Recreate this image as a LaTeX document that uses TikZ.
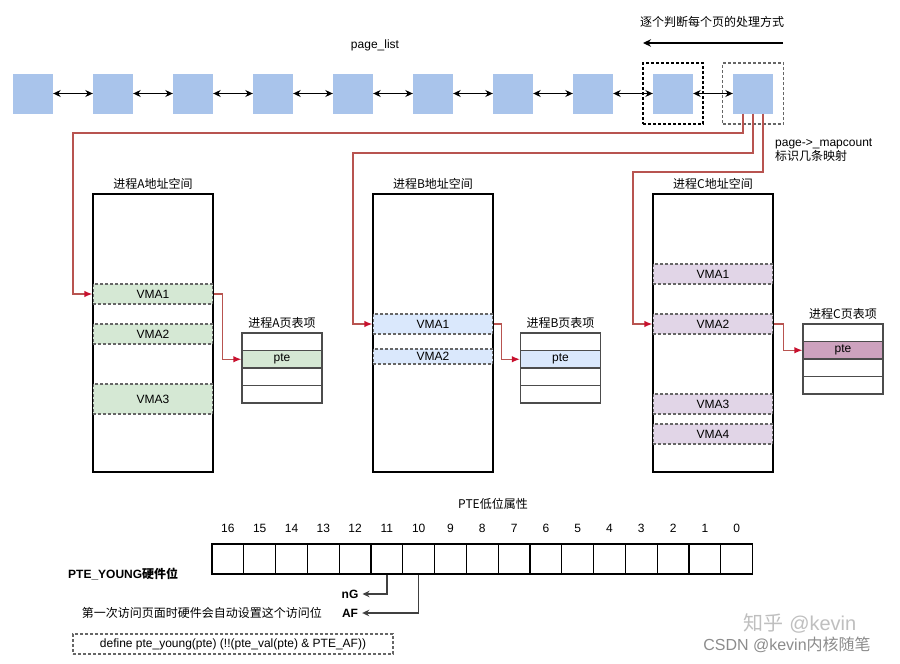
\documentclass[tikz,border=0pt]{standalone}
\usepackage{fontspec}
\setmainfont{Liberation Sans}
\newfontfamily\cjk{Noto Sans CJK SC}
\usetikzlibrary{arrows.meta}
\definecolor{pageblue}{HTML}{A9C4EB}
\definecolor{vgreen}{HTML}{D5E8D4}
\definecolor{vblue}{HTML}{DAE8FC}
\definecolor{vpurple}{HTML}{E1D5E7}
\definecolor{ptepurple}{HTML}{CDA2BE}
\definecolor{linered}{HTML}{B85450}
\definecolor{tipred}{HTML}{C8102E}
\definecolor{dgray}{HTML}{666666}
\tikzset{
  txt/.style={font=\fontsize{12}{14}\selectfont, inner sep=1pt},
  pagebox/.style={fill=pageblue, minimum width=40pt, minimum height=40pt, inner sep=0pt},
  linkarrow/.style={line width=1.1pt, {Stealth[length=7.5pt,width=7pt]}-{Stealth[length=7.5pt,width=7pt]}},
  addrspace/.style={draw, line width=1.2pt, fill=white, minimum width=120pt, minimum height=278pt, inner sep=0pt},
  vma/.style={draw=dgray, dash pattern=on 3pt off 2pt, line width=1.3pt, minimum width=120pt, inner sep=0pt, txt},
  ptrow/.style={draw=black!70, line width=1.2pt, minimum width=80pt, minimum height=17.5pt, inner sep=0pt, txt},
  redarrow/.style={draw=linered, line width=1.3pt, -{Latex[color=tipred,length=8pt,width=6.5pt]}},
  grayarrow/.style={draw=black!75, line width=1.3pt, -{Stealth[length=7pt,width=6.5pt]}},
  bitbox/.style={draw, line width=1.2pt, minimum width=31.8pt, minimum height=30pt, inner sep=0pt},
  dashbox/.style={dash pattern=on 3pt off 2pt, line width=1.2pt, inner sep=0pt},
}
\begin{document}
\begin{tikzpicture}[x=1pt,y=-1pt]
\useasboundingbox (0,0) rectangle (900,664);
\fill[white] (0,0) rectangle (900,664);

% top label and arrow
\node[txt] (order) at (712,22) {\cjk 逐个判断每个页的处理方式};
\coordinate (ta) at (783,43);
\coordinate (tb) at (643,43);
\draw[line width=1.1pt, -{Stealth[length=8pt,width=7.5pt]}] (ta) -- (tb);
\node[txt] (plist) at (375,45) {page\_list};

% page list
\foreach \i in {0,...,9} \node[pagebox] (p\i) at ({33+80*\i},93.5) {};
\foreach \i [evaluate=\i as \j using int(\i+1)] in {0,...,8} \draw[linkarrow] (p\i) -- (p\j);
\node[dashbox, draw, minimum width=60pt, minimum height=61pt] (d8) at (p8) {};
\node[dashbox, draw=dgray, minimum width=61pt, minimum height=61pt] (d9) at (p9) {};

\node[txt, anchor=west, align=left] (mapc) at (774,150) {page->\_mapcount\\{\cjk 标识几条映射}};

% process A
\node[txt] (tA) at (153,184) {\cjk 进程A地址空间};
\node[addrspace] (asA) at (153,333) {};
\node[vma, fill=vgreen, minimum height=20pt] (aV1) at (153,294) {VMA1};
\node[vma, fill=vgreen, minimum height=20pt] (aV2) at (153,334) {VMA2};
\node[vma, fill=vgreen, minimum height=30pt] (aV3) at (153,399) {VMA3};
\draw[line width=1.2pt] (asA.north west) rectangle (asA.south east);
\node[txt] (ptAt) at (282,323) {\cjk 进程A页表项};
\node[ptrow] (ptA1) at (282,341.75) {};
\node[ptrow, fill=vgreen] (ptA2) at (282,359.25) {pte};
\node[ptrow] (ptA3) at (282,376.75) {};
\node[ptrow] (ptA4) at (282,394.25) {};
\draw[redarrow] (aV1.east) -- ++(9,0) |- (ptA2.west);

% process B
\node[txt] (tB) at (433,184) {\cjk 进程B地址空间};
\node[addrspace] (asB) at (433,333) {};
\node[vma, fill=vblue, minimum height=20pt] (bV1) at (433,324) {VMA1};
\node[vma, fill=vblue, minimum height=15pt] (bV2) at (433,356.5) {VMA2};
\draw[line width=1.2pt] (asB.north west) rectangle (asB.south east);
\node[txt] (ptBt) at (560.5,323) {\cjk 进程B页表项};
\node[ptrow] (ptB1) at (560.5,341.75) {};
\node[ptrow, fill=vblue] (ptB2) at (560.5,359.25) {pte};
\node[ptrow] (ptB3) at (560.5,376.75) {};
\node[ptrow] (ptB4) at (560.5,394.25) {};
\draw[redarrow] (bV1.east) -- ++(8,0) |- (ptB2.west);

% process C
\node[txt] (tC) at (713,184) {\cjk 进程C地址空间};
\node[addrspace] (asC) at (713,333) {};
\node[vma, fill=vpurple, minimum height=20pt] (cV1) at (713,274) {VMA1};
\node[vma, fill=vpurple, minimum height=20pt] (cV2) at (713,324) {VMA2};
\node[vma, fill=vpurple, minimum height=20pt] (cV3) at (713,404) {VMA3};
\node[vma, fill=vpurple, minimum height=20pt] (cV4) at (713,434) {VMA4};
\draw[line width=1.2pt] (asC.north west) rectangle (asC.south east);
\node[txt] (ptCt) at (843,314) {\cjk 进程C页表项};
\node[ptrow] (ptC1) at (843,332.75) {};
\node[ptrow, fill=ptepurple] (ptC2) at (843,350.25) {pte};
\node[ptrow] (ptC3) at (843,367.75) {};
\node[ptrow] (ptC4) at (843,385.25) {};
\draw[redarrow] (cV2.east) -- ++(10,0) |- (ptC2.west);

% red mapping lines
\draw[redarrow] ([xshift=-10pt]p9.south) |- (73,133) |- (aV1.west);
\draw[redarrow] (p9.south) |- (353,153) |- (bV1.west);
\draw[redarrow] ([xshift=10pt]p9.south) |- (633,172) |- (cV2.west);

% PTE bits
\node[txt] (ptet) at (493,504) {\cjk PTE低位属性};
\foreach \b [count=\k from 0] in {16,15,...,0} {
  \node[bitbox] (b\b) at ({212+31.8*(\k+0.5)},559) {};
  \node[txt] (n\b) at ({212+31.8*(\k+0.5)},528) {\b};
}
\node[txt, anchor=west, font=\fontsize{12}{14}\selectfont\bfseries] (young) at (67,574) {PTE\_YOUNG{\cjk 硬件位}};
\node[txt, font=\fontsize{12}{14}\selectfont\bfseries] (nG) at (350,594) {nG};
\node[txt, font=\fontsize{12}{14}\selectfont\bfseries] (AF) at (350,613) {AF};
\draw[grayarrow] (b11.south) |- ([xshift=3pt]nG.east);
\draw[grayarrow] (b10.south) |- ([xshift=3pt]AF.east);
\node[txt, anchor=east] (afnote) at (323,613) {\cjk 第一次访问页面时硬件会自动设置这个访问位};
\node[txt, dashbox, draw=dgray, minimum width=320pt, minimum height=20pt] (def) at (233,644) {define pte\_young(pte) (!!(pte\_val(pte) \& PTE\_AF))};

% watermarks
\node[font=\fontsize{20}{22}\selectfont, text=black!25, inner sep=0pt] (wm1) at (800,623) {{\cjk 知乎} @kevin};
\node[font=\fontsize{16}{18}\selectfont, text=black!45, inner sep=0pt] (wm2) at (787,645) {CSDN @kevin{\cjk 内核随笔}};
\end{tikzpicture}
\end{document}
